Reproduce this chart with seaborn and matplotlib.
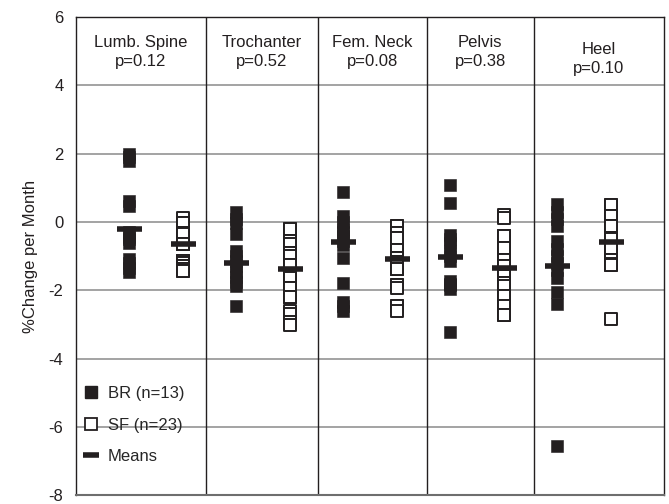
import matplotlib
matplotlib.use("Agg")
import matplotlib.pyplot as plt
from matplotlib.lines import Line2D
import numpy as np
import pandas as pd
import seaborn as sns

# Bone sites and their between-group p-values
sites = ["Lumb. Spine", "Trochanter", "Fem. Neck", "Pelvis", "Heel"]
p_values = ["p=0.12", "p=0.52", "p=0.08", "p=0.38", "p=0.10"]

# Individual %change per month, BR group (n=13 per site)
br_lumb = [2.0, 1.9, 1.78, 0.62, 0.47, -0.28, -0.45, -0.5, -0.62, -1.08, -1.2, -1.33, -1.47]
br_troch = [0.29, 0.1, -0.03, -0.36, -0.84, -1.0, -1.15, -1.3, -1.45, -1.6, -1.75, -1.88, -2.46]
br_femneck = [0.88, 0.19, 0.0, -0.2, -0.3, -0.4, -0.55, -0.67, -1.05, -1.78, -2.33, -2.45, -2.61]
br_pelvis = [1.09, 0.57, -0.38, -0.5, -0.6, -0.85, -1.0, -1.13, -1.72, -1.8, -1.85, -1.96, -3.21]
br_heel = [0.54, 0.3, 0.1, -0.12, -0.54, -0.8, -1.0, -1.2, -1.4, -1.63, -2.04, -2.41, -6.55]

# Individual %change per month, SF group (n=23 per site)
sf_lumb = [0.12, -0.04, -0.04, -0.31, -0.31, -0.36, -0.36, -0.65, -0.65, -0.65, -0.65, -1.14,
           -1.14, -1.14, -1.19, -1.19, -1.29, -1.29, -1.36, -1.36, -1.42, -1.42, -0.04]
sf_troch = [-0.2, -0.2, -0.56, -0.56, -0.63, -0.92, -0.92, -0.98, -1.26, -1.26, -1.26, -1.65,
            -1.65, -1.65, -1.92, -1.92, -2.2, -2.2, -2.61, -2.69, -2.93, -3.0, -2.2]
sf_femneck = [-0.12, -0.12, -0.31, -0.31, -0.48, -0.48, -0.83, -0.83, -0.83, -1.06, -1.06,
              -1.16, -1.16, -1.38, -1.38, -1.38, -1.85, -1.85, -1.92, -2.45, -2.45, -2.6, -1.06]
sf_pelvis = [0.2, 0.12, -0.41, -0.41, -0.77, -0.77, -1.12, -1.12, -1.3, -1.3, -1.58, -1.58,
             -1.77, -1.77, -1.87, -2.16, -2.16, -2.45, -2.45, -2.72, -2.72, -1.12, -0.41]
sf_heel = [0.49, 0.49, 0.17, 0.17, -0.12, -0.12, -0.12, -0.46, -0.51, -0.51, -0.78, -0.78,
           -0.78, -1.11, -1.11, -1.24, -1.25, -1.25, -0.46, 0.17, -1.11, -0.51, -2.83]

# Group means per site
br_means = [-0.2, -1.19, -0.58, -1.03, -1.3]
sf_means = [-0.63, -1.38, -1.09, -1.33, -0.57]

y_ticks = [-8, -6, -4, -2, 0, 2, 4, 6]
legend_labels = ["BR (n=13)", "SF (n=23)", "Means"]

br_all = [br_lumb, br_troch, br_femneck, br_pelvis, br_heel]
sf_all = [sf_lumb, sf_troch, sf_femneck, sf_pelvis, sf_heel]

rows = []
for i, site in enumerate(sites):
    for v in br_all[i]:
        rows.append({"site": site, "group": "BR", "pos": 2 * i + 1, "value": v})
    for v in sf_all[i]:
        rows.append({"site": site, "group": "SF", "pos": 2 * i + 2, "value": v})
# draw each column from top to bottom so stacked open squares show their top edges
df = (pd.DataFrame(rows)
      .sort_values(["pos", "value"], ascending=[True, False])
      .reset_index(drop=True))

means = pd.DataFrame({
    "pos": [2 * i + 1 for i in range(5)] + [2 * i + 2 for i in range(5)],
    "value": br_means + sf_means,
})

sns.set_style("white")
plt.rcParams["font.family"] = ["Liberation Sans", "DejaVu Sans"]
plt.rcParams["axes.unicode_minus"] = False

ink = "#231f20"
grid_col = "#8a8a8a"

fig = plt.figure(figsize=(6.69, 5.04), dpi=100)
ax = fig.add_axes([0.1136, 0.0169, 0.8789, 0.9494])

# horizontal gridlines
for t in y_ticks:
    ax.axhline(t, color=grid_col, lw=1.1, zorder=0)

# vertical separators between sites
separators = [2.43, 4.52, 6.57, 8.56]
for s in separators:
    ax.axvline(s, color=ink, lw=1.0, zorder=1)

sns.scatterplot(data=df[df.group == "BR"], x="pos", y="value", marker="s",
                s=80, color=ink, edgecolor=ink, linewidth=0.4, ax=ax, zorder=3,
                legend=False)
sns.scatterplot(data=df[df.group == "SF"], x="pos", y="value", marker="s",
                s=70, facecolor="white", edgecolor=ink, linewidth=1.4, ax=ax,
                zorder=3, legend=False)
ax.plot(means["pos"], means["value"], linestyle="none", marker="_",
        markersize=18, markeredgewidth=4.0, color=ink, zorder=4)

# site headers
for i, (site, p) in enumerate(zip(sites, p_values)):
    left = 0 if i == 0 else separators[i - 1]
    right = 11 if i == 4 else separators[i]
    cx = (left + right) / 2
    if i < 4:
        ax.text(cx, 5.25, site, ha="center", va="center", fontsize=12, color=ink)
        ax.text(cx, 4.7, p, ha="center", va="center", fontsize=12, color=ink)
    else:
        ax.text(cx, 5.06, site, ha="center", va="center", fontsize=12, color=ink)
        ax.text(cx, 4.5, p, ha="center", va="center", fontsize=12, color=ink)

ax.set_xlim(0, 11)
ax.set_ylim(-8, 6)
ax.set_yticks(y_ticks)
ax.set_yticklabels([str(t) for t in y_ticks], fontsize=12, color=ink)
ax.set_xticks(separators)
ax.set_xticklabels([])
ax.tick_params(axis="y", direction="out", length=6, width=1, color=grid_col, pad=3)
ax.tick_params(axis="x", direction="out", length=6, width=1, color=ink)
ax.set_xlabel("")
ax.set_ylabel("%Change per Month", fontsize=12, color=ink, labelpad=8)

for side in ["top", "right", "left"]:
    ax.spines[side].set_color(ink)
    ax.spines[side].set_linewidth(1.0)
ax.spines["bottom"].set_color("#6e6e6e")
ax.spines["bottom"].set_linewidth(1.5)

handles = [
    Line2D([], [], linestyle="none", marker="s", markersize=8.5, color=ink),
    Line2D([], [], linestyle="none", marker="s", markersize=8.5,
           markerfacecolor="white", markeredgecolor=ink, markeredgewidth=1.3),
    Line2D([], [], linestyle="none", marker="_", markersize=11,
           markeredgewidth=4.0, color=ink),
]
ax.legend(handles, legend_labels, loc="upper left", bbox_to_anchor=(0.0, 0.243),
          frameon=False, fontsize=12, handlelength=1.0, handletextpad=0.5,
          labelspacing=1.0, borderaxespad=0.0)

fig.savefig("out.png", dpi=100)
